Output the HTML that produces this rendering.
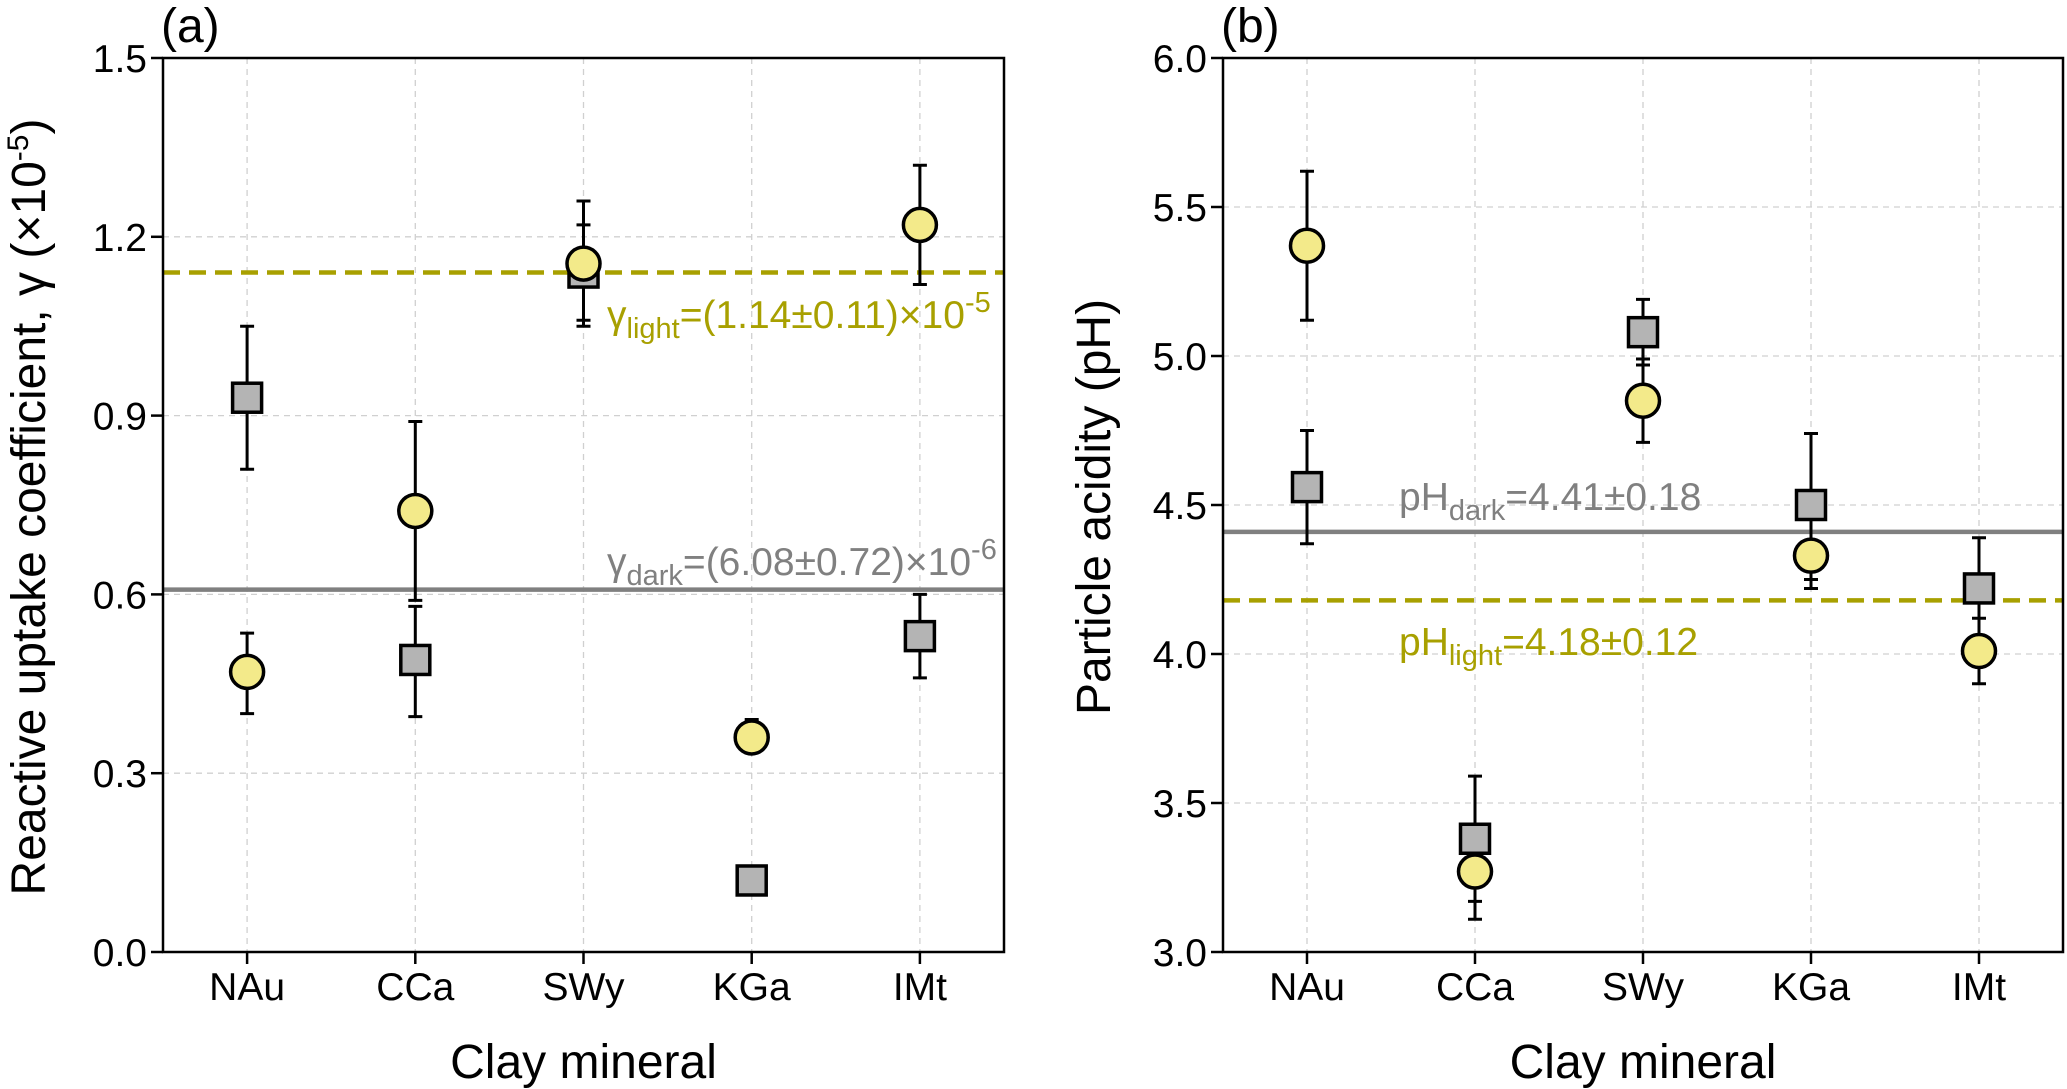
<!DOCTYPE html>
<html><head><meta charset="utf-8"><style>
html,body{margin:0;padding:0;background:#fff}
svg{display:block;font-family:"Liberation Sans",Arial,sans-serif}
</style></head><body>
<svg id="fig" width="2067" height="1089" viewBox="0 0 2067 1089" xmlns="http://www.w3.org/2000/svg"></svg>
<script>
const categories = ["NAu","CCa","SWy","KGa","IMt"];
const gammaDark = [0.93,0.49,1.14,0.12,0.53];
const gammaDarkLo = [0.81,0.395,1.05,0.12,0.46];
const gammaDarkHi = [1.05,0.58,1.22,0.12,0.60];
const gammaLight = [0.47,0.74,1.155,0.36,1.22];
const gammaLightLo = [0.40,0.59,1.06,0.335,1.12];
const gammaLightHi = [0.535,0.89,1.26,0.39,1.32];
const gammaTicks = ["0.0","0.3","0.6","0.9","1.2","1.5"];
const gammaMeanDark = 0.608, gammaMeanLight = 1.14;
const phDark = [4.56,3.38,5.08,4.50,4.22];
const phDarkLo = [4.37,3.17,4.97,4.25,4.04];
const phDarkHi = [4.75,3.59,5.19,4.74,4.39];
const phLight = [5.37,3.27,4.85,4.33,4.01];
const phLightLo = [5.12,3.11,4.71,4.22,3.90];
const phLightHi = [5.62,3.27,4.99,4.33,4.12];
const phTicks = ["3.0","3.5","4.0","4.5","5.0","5.5","6.0"];
const phMeanDark = 4.41, phMeanLight = 4.18;

const NS="http://www.w3.org/2000/svg";
const svg=document.getElementById('fig');
function mk(tag,attrs,parent){const e=document.createElementNS(NS,tag);for(const k in attrs)e.setAttribute(k,attrs[k]);(parent||svg).appendChild(e);return e;}

function panel(o){
  const g=mk('g',{});
  
  
  const L=o.left,R=o.right,T=58,B=952;
  const y=v=>B-(v-o.ymin)/(o.ymax-o.ymin)*(B-T);
  const x=i=>L+(i+0.5)*(R-L)/categories.length;
  o.ticks.forEach(t=>{const v=parseFloat(t);
    const gl=mk('line',{x1:L,x2:R,y1:y(v),y2:y(v),stroke:'#d0d0d0','stroke-width':1.3,'stroke-dasharray':'6,5'},g);
    
    const tk=mk('line',{x1:L-12,x2:L,y1:y(v),y2:y(v),stroke:'#000','stroke-width':2.5},g);
    
    const tl=mk('text',{x:L-16,y:y(v)+14,'text-anchor':'end','font-size':39,fill:'#000'},g);
    tl.textContent=t;
  });
  categories.forEach((c,i)=>{
    const gl=mk('line',{x1:x(i),x2:x(i),y1:T,y2:B,stroke:'#d0d0d0','stroke-width':1.3,'stroke-dasharray':'6,5'},g);
    
    const tk=mk('line',{x1:x(i),x2:x(i),y1:B,y2:B+12,stroke:'#000','stroke-width':2.5},g);
    
    const tl=mk('text',{x:x(i),y:1000,'text-anchor':'middle','font-size':39,fill:'#000'},g);
    tl.textContent=c;
  });
  const md=mk('line',{x1:L,x2:R,y1:y(o.meanDark),y2:y(o.meanDark),stroke:'#808080','stroke-width':4.5},g);
  
  const ml=mk('line',{x1:L,x2:R,y1:y(o.meanLight),y2:y(o.meanLight),stroke:'#a8a000','stroke-width':4.5,'stroke-dasharray':'17,9'},g);
  
  o.ann.forEach(a=>{
    const t=mk('text',{x:a.x,y:a.y,'font-size':39,fill:a.color},g);
    
    t.innerHTML=a.html;
  });
  function err(i,lo,hi){
    if(hi-lo<1e-9)return;
    const e=mk('path',{d:`M${x(i)},${y(lo)}V${y(hi)}M${x(i)-7},${y(lo)}H${x(i)+7}M${x(i)-7},${y(hi)}H${x(i)+7}`,stroke:'#000','stroke-width':3,fill:'none'},g);
    
  }
  categories.forEach((c,i)=>{err(i,o.dLo[i],o.dHi[i]);err(i,o.lLo[i],o.lHi[i]);});
  categories.forEach((c,i)=>{
    const s=mk('rect',{x:x(i)-14.5,y:y(o.dark[i])-14.5,width:29,height:29,fill:'#b4b4b4',stroke:'#000','stroke-width':3.5},g);
    
  });
  categories.forEach((c,i)=>{
    const p=mk('circle',{cx:x(i),cy:y(o.light[i]),r:16.5,fill:'#f3ea8a',stroke:'#000','stroke-width':3.5},g);
    
  });
  const f=mk('rect',{x:L,y:T,width:R-L,height:B-T,fill:'none',stroke:'#000','stroke-width':2.5},g);
  
  const lab=mk('text',{x:L-2,y:42,'font-size':48,fill:'#000'},g);
  lab.textContent=o.label;
  const xt=mk('text',{x:(L+R)/2,y:1078,'text-anchor':'middle','font-size':48,fill:'#000'},g);
  xt.textContent='Clay mineral';
  const yt=mk('text',{x:0,y:0,'text-anchor':'middle','font-size':48,fill:'#000',transform:`translate(${o.ytx},507) rotate(-90)`},g);
  yt.innerHTML=o.ytitle;
}

panel({name:'panel-a-uptake',left:163,right:1004,ymin:0,ymax:1.5,ticks:gammaTicks,
  dark:gammaDark,dLo:gammaDarkLo,dHi:gammaDarkHi,light:gammaLight,lLo:gammaLightLo,lHi:gammaLightHi,
  meanDark:gammaMeanDark,meanLight:gammaMeanLight,label:'(a)',ytx:45,
  ytitle:'Reactive uptake coefficient, γ (×10<tspan dy="-17" font-size="30">-5</tspan><tspan dy="17">)</tspan>',
  ann:[{name:'gamma-light-annotation',x:607,y:328,color:'#a8a000',html:'γ<tspan dy="10" font-size="29">light</tspan><tspan dy="-10">=(1.14±0.11)×10</tspan><tspan dy="-16" font-size="29">-5</tspan>'},
       {name:'gamma-dark-annotation',x:607,y:575,color:'#808080',html:'γ<tspan dy="10" font-size="29">dark</tspan><tspan dy="-10">=(6.08±0.72)×10</tspan><tspan dy="-16" font-size="29">-6</tspan>'}]});
panel({name:'panel-b-acidity',left:1223,right:2063,ymin:3,ymax:6,ticks:phTicks,
  dark:phDark,dLo:phDarkLo,dHi:phDarkHi,light:phLight,lLo:phLightLo,lHi:phLightHi,
  meanDark:phMeanDark,meanLight:phMeanLight,label:'(b)',ytx:1110,
  ytitle:'Particle acidity (pH)',
  ann:[{name:'ph-dark-annotation',x:1399,y:510,color:'#808080',html:'pH<tspan dy="10" font-size="29">dark</tspan><tspan dy="-10">=4.41±0.18</tspan>'},
       {name:'ph-light-annotation',x:1399,y:655,color:'#a8a000',html:'pH<tspan dy="10" font-size="29">light</tspan><tspan dy="-10">=4.18±0.12</tspan>'}]});
</script>
</body></html>
